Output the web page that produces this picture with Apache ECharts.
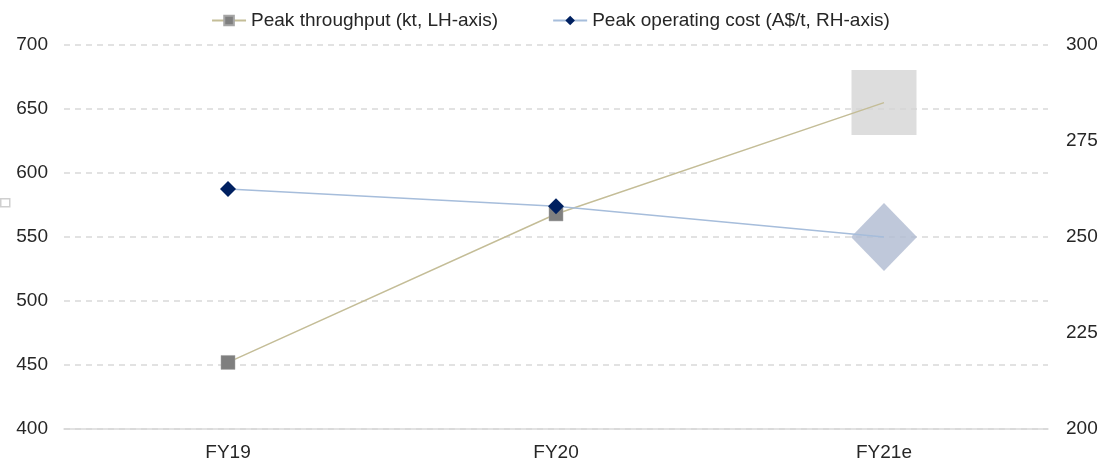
<!DOCTYPE html>
<html><head><meta charset="utf-8">
<script src="https://cdn.jsdelivr.net/npm/echarts@6/dist/echarts.min.js"></script>
<style>html,body{margin:0;padding:0;background:#fff}#c{width:1101px;height:464px}</style>
</head><body><div id="c"></div>
<script>
const categories = ['FY19', 'FY20', 'FY21e'];
const throughput = [452, 568, 655];
const opCost = [262.5, 258, 250];
const estimateIndex = 2;
const leftTicks = [400, 450, 500, 550, 600, 650, 700];
const rightTicks = [200, 225, 250, 275, 300];

const font = 'Liberation Sans, Arial, sans-serif';
const chart = echarts.init(document.getElementById('c'));

function actual(arr) { return arr.map((v, i) => i === estimateIndex ? {value: v, symbol: 'none'} : v); }
function est(arr) { return arr.map((v, i) => i === estimateIndex ? v : '-'); }

chart.setOption({
  animation: false,
  textStyle: {fontFamily: font},
  legend: {
    top: 6, left: 'center', itemGap: 54, itemWidth: 34, itemHeight: 12,
    textStyle: {fontSize: 19, color: '#262626', fontFamily: font},
    data: ['Peak throughput (kt, LH-axis)', 'Peak operating cost (A$/t, RH-axis)']
  },
  grid: {left: 64, right: 53, top: 45, bottom: 35},
  xAxis: {
    type: 'category', data: categories, boundaryGap: true,
    axisLine: {lineStyle: {color: '#d9d9d9', width: 1.5}},
    axisTick: {show: false},
    axisLabel: {fontSize: 19, color: '#262626', margin: 14, fontFamily: font}
  },
  yAxis: [{
    type: 'value', min: leftTicks[0], max: leftTicks[leftTicks.length - 1], interval: 50,
    axisLine: {show: false}, axisTick: {show: false},
    axisLabel: {fontSize: 19, color: '#262626', margin: 16, fontFamily: font},
    splitLine: {lineStyle: {color: '#d9d9d9', type: [6, 5], width: 1.5}}
  }, {
    type: 'value', min: rightTicks[0], max: rightTicks[rightTicks.length - 1], interval: 25,
    axisLine: {show: false}, axisTick: {show: false},
    axisLabel: {fontSize: 19, color: '#262626', margin: 18, fontFamily: font},
    splitLine: {show: false}
  }],
  series: [{
    name: 'Peak throughput (kt, LH-axis)', type: 'line', yAxisIndex: 0,
    data: actual(throughput), symbol: 'rect', symbolSize: 14, z: 3,
    lineStyle: {color: '#c4bd97', width: 1.5},
    itemStyle: {color: '#7f7f7f', borderColor: '#a6a6a6', borderWidth: 0.5}
  }, {
    name: 'Peak operating cost (A$/t, RH-axis)', type: 'line', yAxisIndex: 1,
    data: actual(opCost), symbol: 'diamond', symbolSize: 16, z: 4,
    lineStyle: {color: '#a6bddb', width: 1.5},
    itemStyle: {color: '#002060'}
  }, {
    type: 'scatter', yAxisIndex: 0, data: est(throughput), symbol: 'rect', symbolSize: 65, z: 1,
    itemStyle: {color: '#d4d4d4', opacity: 0.8}, silent: true
  }, {
    type: 'scatter', yAxisIndex: 1, data: est(opCost), symbol: 'diamond', symbolSize: [66, 68], z: 1,
    itemStyle: {color: '#b4bed3', opacity: 0.85}, silent: true
  }],
  graphic: [{
    type: 'rect', left: 0, top: 198, shape: {width: 9, height: 8},
    style: {fill: '#fff', stroke: '#cfcfcf', lineWidth: 1.5}
  }]
});
</script></body></html>
